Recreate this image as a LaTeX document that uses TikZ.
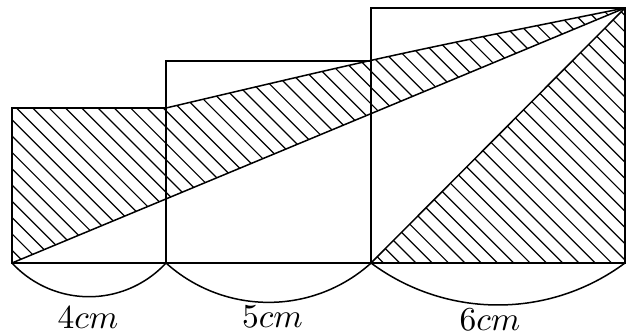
\documentclass[tikz,border=0pt]{standalone}
\usepackage{graphicx}
\begin{document}
\begin{tikzpicture}[x=1pt,y=1pt,
  outline/.style={line width=1.5pt,line join=miter},
  hatchline/.style={line width=1.2pt},
  lbl/.style={anchor=base,inner sep=0pt}]
\useasboundingbox (0,0) rectangle (630,336);
% coordinates
\coordinate (A0) at (12,73);
\coordinate (A1) at (166,73);
\coordinate (A2) at (371,73);
\coordinate (A3) at (625,73);
\coordinate (T1) at (12,228);
\coordinate (T1r) at (166,228);
\coordinate (T2l) at (166,275);
\coordinate (T2r) at (371,275);
\coordinate (T3l) at (371,328);
\coordinate (T3) at (625,328);
% hatched regions
\begin{scope}
  \clip (A0) -- (T1) -- (T1r) .. controls (395.5,282) .. (T3) -- cycle;
  \foreach \k in {5,...,60} {
    \draw[hatchline] ({16.3*\k},0) -- ({16.3*\k-400},400);
  }
\end{scope}
\begin{scope}
  \clip (A2) -- (T3) -- (A3) -- cycle;
  \foreach \k in {5,...,60} {
    \draw[hatchline] ({16.3*\k},0) -- ({16.3*\k-400},400);
  }
\end{scope}
% squares
\draw[outline] (A0) rectangle (T1r);
\draw[outline] (A1) rectangle (T2r);
\draw[outline] (A2) rectangle (T3);
% lines
\draw[outline] (A0) -- (T3);
\draw[outline] (T1r) .. controls (395.5,282) .. (T3);
\draw[outline] (A2) -- (T3);
% bottom arcs
\draw[outline] (A0) arc[start angle=222.7,end angle=317.3,radius=104.8];
\draw[outline] (A1) arc[start angle=228,end angle=312,radius=153.3];
\draw[outline] (A2) arc[start angle=233.4,end angle=306.6,radius=213];
% labels
\node[lbl] (l4) at (88,7) {\scalebox{3.35}{$4cm$}};
\node[lbl] (l5) at (272.5,8) {\scalebox{3.35}{$5cm$}};
\node[lbl] (l6) at (490,5) {\scalebox{3.35}{$6cm$}};
\end{tikzpicture}
\end{document}
